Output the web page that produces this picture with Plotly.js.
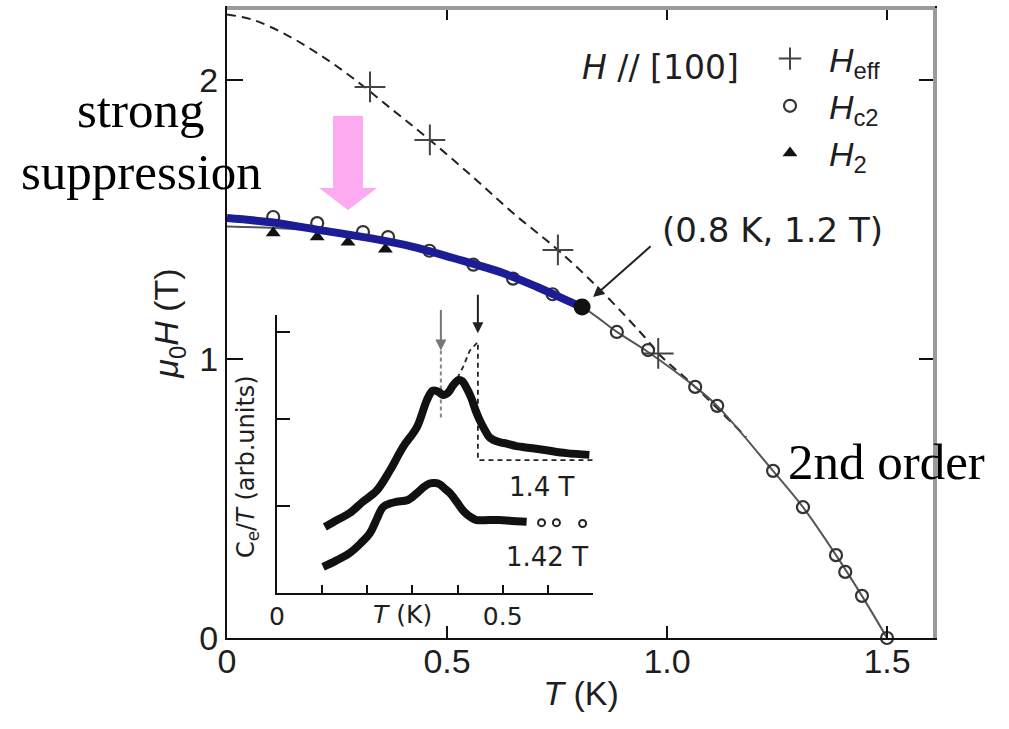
<!DOCTYPE html>
<html><head><meta charset="utf-8">
<script src="https://cdn.plot.ly/plotly-3.0.1.min.js"></script>
<style>html,body{margin:0;padding:0;background:#fff}#chart{width:1009px;height:729px}</style>
</head><body><div id="chart"></div>
<script>
// ---- main panel data (T in K, mu0H in T) ----
const heffT = [0.325, 0.461, 0.752, 0.98];
const heffH = [1.975, 1.785, 1.391, 1.02];
const hc2T = [0.105, 0.205, 0.309, 0.366, 0.46, 0.56, 0.65, 0.74, 0.886, 0.957, 1.064, 1.114, 1.241, 1.309, 1.384, 1.405, 1.443, 1.5];
const hc2H = [1.509, 1.487, 1.455, 1.437, 1.388, 1.338, 1.288, 1.232, 1.097, 1.032, 0.900, 0.832, 0.599, 0.469, 0.297, 0.237, 0.151, 0.0];
const h2T = [0.105, 0.205, 0.275, 0.36];
const h2H = [1.452, 1.437, 1.418, 1.393];
const effFitT = [0.0, 0.06, 0.136, 0.211, 0.286, 0.377, 0.461, 0.559, 0.65, 0.752, 0.855, 0.955, 0.98, 1.064, 1.18];
const effFitH = [2.235, 2.215, 2.161, 2.09, 2.007, 1.892, 1.785, 1.652, 1.523, 1.391, 1.237, 1.068, 1.02, 0.9, 0.72];
const c2FitT = [0, 0.1, 0.2, 0.3, 0.4, 0.5, 0.6, 0.7, 0.807, 0.886, 0.957, 1.064, 1.114, 1.241, 1.309, 1.384, 1.443, 1.5];
const c2FitH = [1.475, 1.47, 1.46, 1.44, 1.41, 1.365, 1.315, 1.255, 1.186, 1.097, 1.025, 0.9, 0.832, 0.599, 0.469, 0.297, 0.151, 0.0];
const blueT = [0, 0.1, 0.211, 0.325, 0.423, 0.514, 0.627, 0.705, 0.786, 0.807];
const blueH = [1.505, 1.49, 1.462, 1.433, 1.402, 1.362, 1.308, 1.258, 1.2, 1.186];
const tcpT = [0.807];
const tcpH = [1.186];
const mainXTicks = [0, 0.5, 1.0, 1.5];
const mainXLabels = ['0', '0.5', '1.0', '1.5'];
const mainYTicks = [0, 1, 2];
const mainYLabels = ['0', '1', '2'];

// ---- inset data (T in K, Ce/T arb. units) ----
const insUpT = [0.106,0.133,0.161,0.19,0.221,0.25,0.279,0.31,0.332,0.345,0.356,0.368,0.378,0.39,0.402,0.41,0.42,0.43,0.44,0.449,0.46,0.471,0.49,0.509,0.53,0.566,0.6,0.641,0.692];
const insUpC = [0.76,0.84,0.92,1.05,1.18,1.41,1.68,1.91,2.22,2.33,2.32,2.28,2.3,2.39,2.45,2.44,2.36,2.25,2.1,1.99,1.88,1.79,1.74,1.72,1.69,1.667,1.64,1.61,1.59];
const insLoT = [0.102,0.13,0.161,0.185,0.206,0.22,0.235,0.25,0.265,0.29,0.31,0.325,0.338,0.35,0.361,0.372,0.383,0.398,0.412,0.427,0.442,0.47,0.493,0.52,0.553];
const insLoC = [0.3,0.37,0.46,0.57,0.69,0.84,0.99,1.03,1.05,1.07,1.15,1.22,1.26,1.265,1.25,1.2,1.15,1.05,0.95,0.88,0.84,0.84,0.84,0.83,0.82];
const insLoTailT = [0.586, 0.619, 0.677];
const insLoTailC = [0.81, 0.81, 0.80];
const insDashT = [0.387, 0.40, 0.412, 0.427, 0.445, 0.445, 0.70];
const insDashC = [2.39, 2.48, 2.6, 2.79, 2.89, 1.53, 1.53];
const insGreyT = [0.363, 0.363];
const insGreyC = [2.79, 2.02];
const insXTicks = [0, 0.5];
const insXLabels = ['0', '0.5'];
const insYTicks = [1, 2, 3];

const SANS = 'Liberation Sans, Arial, sans-serif';
const WIDE = 'DejaVu Sans, Liberation Sans, sans-serif';
const SERIF = 'Liberation Serif, Times New Roman, serif';
const TXT = '#1e1e1e';

const traces = [
  {x: effFitT, y: effFitH, mode: 'lines', line: {color: '#222', width: 2, dash: '9px,6px', shape: 'spline'}, showlegend: false, hoverinfo: 'skip'},
  {x: c2FitT, y: c2FitH, mode: 'lines', line: {color: '#555', width: 2, shape: 'spline'}, showlegend: false, hoverinfo: 'skip'},
  {x: heffT, y: heffH, mode: 'markers', name: '\u00a0\u00a0<i>H</i><sub>eff</sub>',
   marker: {symbol: 'cross-thin-open', size: 22, color: '#444', line: {color: '#444', width: 2}}},
  {x: hc2T, y: hc2H, mode: 'markers', name: '\u00a0\u00a0<i>H</i><sub>c2</sub>', cliponaxis: false,
   marker: {symbol: 'circle-open', size: 12, color: '#333', line: {color: '#333', width: 2.2}}},
  {x: h2T, y: h2H, mode: 'markers', name: '\u00a0\u00a0<i>H</i><sub>2</sub>',
   marker: {symbol: 'triangle-up', size: 13, color: '#111'}},
  {x: blueT, y: blueH, mode: 'lines', line: {color: '#1c1c96', width: 8, shape: 'spline'}, showlegend: false, hoverinfo: 'skip'},
  {x: tcpT, y: tcpH, mode: 'markers', marker: {size: 17, color: '#111'}, showlegend: false},
  // inset
  {x: insDashT, y: insDashC, xaxis: 'x2', yaxis: 'y2', mode: 'lines', line: {color: '#222', width: 1.8, dash: '5px,4px'}, showlegend: false},
  {x: insGreyT, y: insGreyC, xaxis: 'x2', yaxis: 'y2', mode: 'lines', line: {color: '#888', width: 2, dash: '4px,3px'}, showlegend: false},
  {x: insUpT, y: insUpC, xaxis: 'x2', yaxis: 'y2', mode: 'lines', line: {color: '#111', width: 8, shape: 'spline'}, showlegend: false},
  {x: insLoT, y: insLoC, xaxis: 'x2', yaxis: 'y2', mode: 'lines', line: {color: '#111', width: 8, shape: 'spline'}, showlegend: false},
  {x: insLoTailT, y: insLoTailC, xaxis: 'x2', yaxis: 'y2', mode: 'markers', marker: {symbol: 'circle-open', size: 7, color: '#222', line: {color: '#222', width: 2}}, showlegend: false}
];

const ann = [
  {xref: 'paper', yref: 'paper', x: (141-227)/708, y: (638-110)/630, text: 'strong', showarrow: false,
   font: {family: SERIF, size: 51, color: '#000'}, xanchor: 'center', yanchor: 'middle'},
  {xref: 'paper', yref: 'paper', x: (141-227)/708, y: (638-172)/630, text: 'suppression', showarrow: false,
   font: {family: SERIF, size: 51, color: '#000'}, xanchor: 'center', yanchor: 'middle'},
  {xref: 'x', yref: 'y', x: 1.498, y: 0.631, text: '2nd order', showarrow: false,
   font: {family: SERIF, size: 51, color: '#000'}, xanchor: 'center', yanchor: 'middle'},
  {xref: 'x', yref: 'y', x: 0.986, y: 2.043, text: '<i>H</i> // [100]', showarrow: false,
   font: {family: WIDE, size: 33, color: TXT}, xanchor: 'center', yanchor: 'middle'},
  {xref: 'x', yref: 'y', x: 1.239, y: 1.462, text: '(0.8 K, 1.2 T)', showarrow: false,
   font: {family: WIDE, size: 34, color: TXT}, xanchor: 'center', yanchor: 'middle'},
  {xref: 'x', yref: 'y', x: 0.832, y: 1.222, text: '', showarrow: true, ax: 59, ay: -52,
   arrowhead: 2, arrowsize: 1.1, arrowwidth: 2, arrowcolor: '#222', standoff: 0},
  // inset texts
  {xref: 'paper', yref: 'paper', x: (247-227)/708, y: (638-467)/630, text: 'C<sub>e</sub>/<i>T</i> (arb.units)', textangle: -90,
   showarrow: false, font: {family: WIDE, size: 24, color: TXT}, xanchor: 'center', yanchor: 'middle'},
  {xref: 'x2', yref: 'paper', x: 0.277, y: (638-614)/630, text: '<i>T</i> (K)', showarrow: false,
   font: {family: WIDE, size: 25, color: TXT}, xanchor: 'center', yanchor: 'middle'},
  {xref: 'x2', yref: 'y2', x: 0.586, y: 1.218, text: '1.4 T', showarrow: false,
   font: {family: WIDE, size: 26, color: TXT}, xanchor: 'center', yanchor: 'middle'},
  {xref: 'x2', yref: 'y2', x: 0.597, y: 0.414, text: '1.42 T', showarrow: false,
   font: {family: WIDE, size: 26, color: TXT}, xanchor: 'center', yanchor: 'middle'},
  {xref: 'x2', yref: 'y2', x: 0.363, y: 2.79, text: '', showarrow: true, ax: 0, ay: -42,
   arrowhead: 2, arrowsize: 1.1, arrowwidth: 2, arrowcolor: '#777', standoff: 0},
  {xref: 'x2', yref: 'y2', x: 0.445, y: 2.99, text: '', showarrow: true, ax: 0, ay: -40,
   arrowhead: 2, arrowsize: 1.1, arrowwidth: 2, arrowcolor: '#222', standoff: 0}
];

const shapes = [
  {type: 'line', xref: 'paper', yref: 'paper', x0: 0, x1: 1, y0: 1, y1: 1, line: {color: '#9a9a9a', width: 4}, layer: 'above'},
  {type: 'line', xref: 'paper', yref: 'paper', x0: 1, x1: 1, y0: 0, y1: 1, line: {color: '#9a9a9a', width: 4}, layer: 'above'},
  {type: 'path', xref: 'x', yref: 'y', layer: 'above',
   path: 'M 0.241 1.871 L 0.309 1.871 L 0.309 1.613 L 0.341 1.613 L 0.275 1.534 L 0.209 1.613 L 0.241 1.613 Z',
   fillcolor: '#fdaaf0', line: {width: 0}}
];

const layout = {
  width: 1009, height: 729,
  margin: {l: 227, r: 74, t: 8, b: 91},
  paper_bgcolor: '#fff', plot_bgcolor: 'rgba(0,0,0,0)',
  font: {family: SANS, color: TXT},
  showlegend: true,
  legend: {x: (770-227)/708, y: (638-30)/630, xanchor: 'left', yanchor: 'top', bgcolor: 'rgba(0,0,0,0)',
           font: {family: SANS, size: 34, color: TXT}, tracegroupgap: 0, itemsizing: 'trace'},
  xaxis: {domain: [0, 1], range: [0, 1.609], tickvals: mainXTicks, ticktext: mainXLabels,
          ticks: 'inside', ticklen: 12, tickwidth: 2, tickcolor: '#111',
          showline: true, linecolor: '#111', linewidth: 2, mirror: 'ticks',
          showgrid: false, zeroline: false, tickfont: {size: 34, color: TXT}, ticklabelstandoff: -8,
          title: {text: '<i>T</i> (K)', font: {size: 34, color: TXT}, standoff: 2}},
  yaxis: {domain: [0, 1], range: [0, 2.258], tickvals: mainYTicks, ticktext: mainYLabels,
          ticks: 'inside', ticklen: 16, tickwidth: 2, tickcolor: '#111',
          showline: true, linecolor: '#111', linewidth: 2, mirror: 'ticks',
          showgrid: false, zeroline: false, tickfont: {size: 34, color: TXT},
          title: {text: '<i>μ</i><sub>0</sub><i>H</i> (T)', font: {size: 34, color: TXT}, standoff: 10}},
  xaxis2: {domain: [(277-227)/708, (593-227)/708], anchor: 'y2', range: [0, 0.7],
           tickvals: insXTicks, ticktext: insXLabels, ticks: 'inside', ticklen: 8, tickwidth: 2, tickcolor: '#111',
           minor: {dtick: 0.1, tick0: 0, ticks: 'inside', ticklen: 8, tickwidth: 2, tickcolor: '#111', showgrid: false},
           showline: true, linecolor: '#111', linewidth: 2, showgrid: false, zeroline: false,
           tickfont: {family: WIDE, size: 25, color: TXT}},
  yaxis2: {domain: [(638-593)/630, (638-315)/630], anchor: 'x2', range: [0, 3.2],
           tickvals: insYTicks, showticklabels: false, ticks: 'inside', ticklen: 13, tickwidth: 2, tickcolor: '#111',
           showline: true, linecolor: '#111', linewidth: 2, showgrid: false, zeroline: false},
  annotations: ann,
  shapes: shapes
};

Plotly.newPlot('chart', traces, layout, {displayModeBar: false, staticPlot: true});
</script>
</body></html>
